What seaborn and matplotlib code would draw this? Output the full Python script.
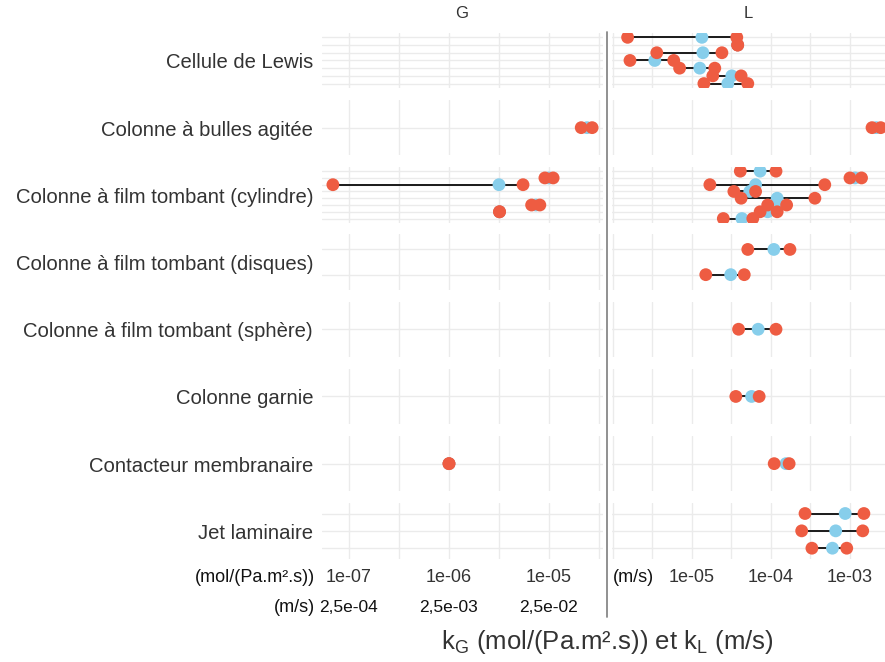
#!/usr/bin/env python3
"""Dumbbell chart of kG / kL ranges per contactor type (faceted G | L)."""
import numpy as np
import pandas as pd
import matplotlib
matplotlib.use("Agg")
import matplotlib.pyplot as plt
import matplotlib.transforms as mtransforms
from matplotlib.ticker import FixedLocator, NullFormatter
import seaborn as sns

# --- DATA ---
categories = [
    "Cellule de Lewis",
    "Colonne à bulles agitée",
    "Colonne à film tombant (cylindre)",
    "Colonne à film tombant (disques)",
    "Colonne à film tombant (sphère)",
    "Colonne garnie",
    "Contacteur membranaire",
    "Jet laminaire",
]
n_subrows = [7, 1, 8, 2, 1, 1, 1, 3]

# one entry per measurement: category index, sub-row (from top), phase, min / mean / max
meas_cat = [0, 0, 0, 0, 0, 0, 0,
            1, 1,
            2, 2, 2, 2, 2, 2, 2, 2, 2, 2, 2, 2,
            3, 3,
            4,
            5,
            6, 6,
            7, 7, 7]
meas_row = [1, 2, 3, 4, 5, 6, 7,
            1, 1,
            1, 2, 2, 3, 3, 4, 5, 6, 6, 7, 7, 8,
            1, 2,
            1,
            1,
            1, 1,
            1, 2, 3]
meas_phase = ["L", "L", "L", "L", "L", "L", "L",
              "G", "L",
              "L", "L", "G", "L", "G", "L", "L", "L", "G", "L", "G", "L",
              "L", "L",
              "L",
              "L",
              "G", "L",
              "L", "L", "L"]
meas_min = [1.54e-6, 3.8e-5, 3.6e-6, 1.65e-6, 7.0e-6, 1.84e-5, 1.42e-5,
            2.1e-5, 1.9e-3,
            4.1e-5, 1.0e-3, 9.1e-6, 1.69e-5, 6.9e-8, 3.4e-5, 4.2e-5, 9.1e-5, 6.7e-6, 7.3e-5, 3.2e-6, 2.5e-5,
            5.1e-5, 1.5e-5,
            3.9e-5,
            3.6e-5,
            1.0e-6, 1.1e-4,
            2.7e-4, 2.45e-4, 3.3e-4]
meas_mean = [1.34e-5, 3.8e-5, 1.38e-5, 3.4e-6, 1.26e-5, 3.2e-5, 2.85e-5,
             2.4e-5, 2.15e-3,
             7.3e-5, 1.16e-3, 1.0e-5, 6.4e-5, 3.16e-6, 5.4e-5, 1.2e-4, 1.12e-4, 7.4e-6, 9.1e-5, 3.2e-6, 4.3e-5,
             1.09e-4, 3.1e-5,
             6.9e-5,
             5.7e-5,
             1.0e-6, 1.55e-4,
             8.7e-4, 6.6e-4, 6.0e-4]
meas_max = [3.7e-5, 3.8e-5, 2.4e-5, 5.9e-6, 1.95e-5, 4.2e-5, 5.1e-5,
            2.7e-5, 2.45e-3,
            1.16e-4, 1.4e-3, 1.1e-5, 4.8e-4, 5.5e-6, 6.4e-5, 3.6e-4, 1.58e-4, 8.1e-6, 1.2e-4, 3.2e-6, 5.9e-5,
            1.74e-4, 4.6e-5,
            1.16e-4,
            7.1e-5,
            1.0e-6, 1.7e-4,
            1.5e-3, 1.45e-3, 9.1e-4]

g_ticks = [1e-7, 1e-6, 1e-5]
g_tick_labels = ["1e-07", "1e-06", "1e-05"]
g_tick_labels_ms = ["2,5e-04", "2,5e-03", "2,5e-02"]
l_ticks = [1e-5, 1e-4, 1e-3]
l_tick_labels = ["1e-05", "1e-04", "1e-03"]

# --- STYLE ---
RED = "#EE5C42"
BLUE = "#87CEEB"
GRID = "#EBEBEB"
TEXT = "#333333"
W, H = 885, 662
PANEL_TOP, PANEL_PITCH, PANEL_H = 32.7, 67.2, 55.5
COLS = {"G": (322, 603, -7.27, -4.46), "L": (612, 885, -6.01, -2.557)}
DOT = 85

sns.set_theme(style="whitegrid")
plt.rcParams["font.family"] = ["Liberation Sans", "DejaVu Sans"]

df = pd.DataFrame({"cat": meas_cat, "row": meas_row, "phase": meas_phase,
                   "kmin": meas_min, "kmean": meas_mean, "kmax": meas_max})

fig = plt.figure(figsize=(W / 100, H / 100), dpi=100)


def rect(x0, x1, top, h):
    return [x0 / W, 1 - (top + h) / H, (x1 - x0) / W, h / H]


axes = {}
for ci, cat in enumerate(categories):
    n = n_subrows[ci]
    top = PANEL_TOP + ci * PANEL_PITCH
    for phase, (x0, x1, lo, hi) in COLS.items():
        ax = fig.add_axes(rect(x0, x1, top, PANEL_H))
        axes[(ci, phase)] = ax
        ax.set_xscale("log")
        ax.set_xlim(10 ** lo, 10 ** hi)
        ax.set_ylim(0.4, n + 0.6)
        majors = [10.0 ** k for k in range(-9, 0)]
        minors = [10.0 ** (k + 0.5) for k in range(-9, 0)]
        ax.xaxis.set_major_locator(FixedLocator(majors))
        ax.xaxis.set_minor_locator(FixedLocator(minors))
        ax.xaxis.set_major_formatter(NullFormatter())
        ax.xaxis.set_minor_formatter(NullFormatter())
        ax.yaxis.set_major_locator(FixedLocator(list(range(1, n + 1))))
        ax.yaxis.set_major_formatter(NullFormatter())
        ax.grid(which="both", axis="x", color=GRID, lw=1.0)
        ax.grid(which="major", axis="y", color=GRID, lw=1.0)
        ax.tick_params(length=0, which="both")
        ax.set_facecolor("white")
        for s in ax.spines.values():
            s.set_visible(False)

        sub = df[(df["cat"] == ci) & (df["phase"] == phase)].copy()
        if not sub.empty:
            sub["y"] = n + 1 - sub["row"]
            ax.hlines(sub["y"], sub["kmin"], sub["kmax"], color="#1a1a1a", lw=1.4, zorder=2)
            sns.scatterplot(data=sub, x="kmean", y="y", color=BLUE, s=DOT,
                            edgecolor="none", ax=ax, zorder=3)
            sns.scatterplot(data=sub, x="kmin", y="y", color=RED, s=DOT,
                            edgecolor="none", ax=ax, zorder=4)
            sns.scatterplot(data=sub, x="kmax", y="y", color=RED, s=DOT,
                            edgecolor="none", ax=ax, zorder=4)
        ax.set_xlabel("")
        ax.set_ylabel("")

    # category label on the left
    fig.text(313 / W, 1 - (top + PANEL_H / 2 + 2.5) / H, cat, ha="right", va="center",
             fontsize=14.6, color=TEXT)

# facet strips
fig.text(462 / W, 1 - 14 / H, "G", ha="center", va="center", fontsize=12, color=TEXT)
fig.text(748 / W, 1 - 14 / H, "L", ha="center", va="center", fontsize=12, color=TEXT)

# x tick labels (bottom row of panels)
last = len(categories) - 1
axg = axes[(last, "G")]
axl = axes[(last, "L")]
tg = mtransforms.blended_transform_factory(axg.transData, fig.transFigure)
tl = mtransforms.blended_transform_factory(axl.transData, fig.transFigure)
for v, lab, lab2 in zip(g_ticks, g_tick_labels, g_tick_labels_ms):
    axg.text(v, 1 - 577 / H, lab, transform=tg, ha="center", va="center",
             fontsize=13, color=TEXT, clip_on=False)
    axg.text(v, 1 - 607 / H, lab2, transform=tg, ha="center", va="center",
             fontsize=12.5, color="#111111", clip_on=False)
for v, lab in zip(l_ticks, l_tick_labels):
    axl.text(v, 1 - 577 / H, lab, transform=tl, ha="center", va="center",
             fontsize=13, color=TEXT, clip_on=False)

fig.text(315 / W, 1 - 577 / H, "(mol/(Pa.m².s))", ha="right", va="center",
         fontsize=13, color="#111111")
fig.text(315 / W, 1 - 607 / H, "(m/s)", ha="right", va="center",
         fontsize=13, color="#111111")
fig.text(613 / W, 1 - 577 / H, "(m/s)", ha="left", va="center",
         fontsize=13, color="#111111")

# separator between the two facets
fig.add_artist(plt.Line2D([607 / W, 607 / W], [1 - 32 / H, 1 - 617 / H],
                          transform=fig.transFigure, color="#888888", lw=1.3))

fig.text(607 / W, 1 - 642 / H,
         r"k$_\mathregular{G}$ (mol/(Pa.m².s)) et k$_\mathregular{L}$ (m/s)",
         ha="center", va="center", fontsize=18.5, color=TEXT)

fig.savefig("out.png", dpi=100, facecolor="white")
